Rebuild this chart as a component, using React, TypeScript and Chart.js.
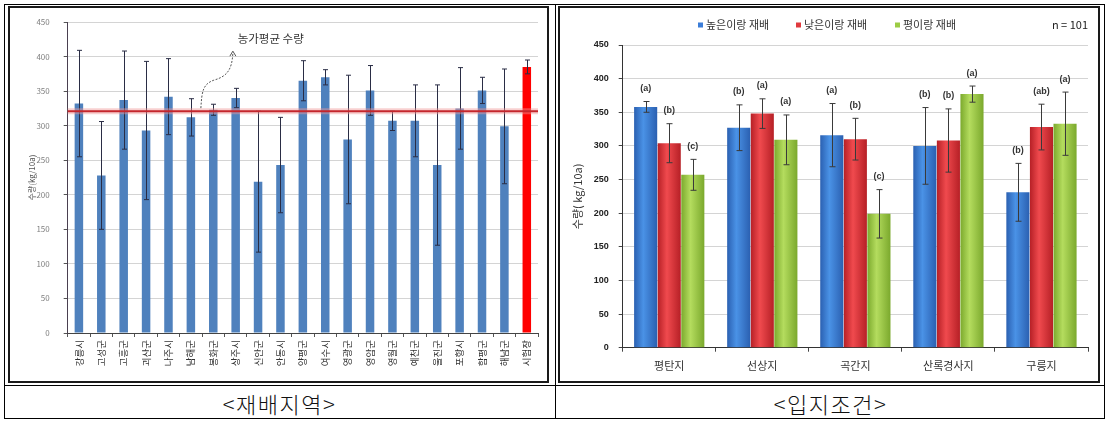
import React, { useEffect, useRef } from "react";
import { Chart, registerables } from "chart.js";
Chart.register(...registerables);

// ---------- Left chart data: 재배지역 ----------
const regionLabels = ["강릉시", "고성군", "고흥군", "괴산군", "나주시", "남해군", "봉화군", "상주시", "신안군", "안동시", "양평군", "여수시", "영광군", "영암군", "영월군", "예천군", "울진군", "포항시", "함평군", "해남군", "시험장"];
const regionYield = [332, 228, 337, 293, 342, 312, 323, 340, 219, 243, 365, 370, 280, 351, 307, 307, 243, 325, 351, 299, 385];
const regionSD = [77, 78, 71, 100, 55, 27, 8, 14, 102, 69, 29, 11, 93, 36, 14, 52, 116, 59, 19, 83, 10];
const farmAverage = 321;
const farmAverageLabel = "농가평균 수량";
const leftYTitle = "수량(kg/10a)";

// ---------- Right chart data: 입지조건 ----------
const siteLabels = ["평탄지", "선상지", "곡간지", "산록경사지", "구릉지"];
const seriesNames = ["높은이랑 재배", "낮은이랑 재배", "평이랑 재배"];
const highRidge = [358, 327, 316, 300, 231];
const lowRidge = [304, 348, 310, 308, 328];
const flatRidge = [257, 309, 199, 377, 333];
const highSD = [8, 34, 47, 57, 43];
const lowSD = [29, 22, 31, 47, 34];
const flatSD = [23, 37, 36, 12, 47];
const highSig = ["(a)", "(b)", "(a)", "(b)", "(b)"];
const lowSig = ["(b)", "(a)", "(b)", "(b)", "(ab)"];
const flatSig = ["(c)", "(a)", "(c)", "(a)", "(a)"];
const sampleNote = "n = 101";
const rightYTitle = "수량( kg/10a)";

// ---------- Axis ----------
const yMin = 0;
const yMax = 450;
const yStep = 50;

const captions = ["<재배지역>", "<입지조건>"];

const FONT = "'Noto Sans CJK KR', 'Noto Sans', sans-serif";
const CAT_PCT = 0.76;

const seriesColors = [
  { dark: "#2a5fb0", light: "#4a92e6", solid: "#3b7dd8" },
  { dark: "#b51f25", light: "#f04a4e", solid: "#e03a3e" },
  { dark: "#7aa82c", light: "#b4dc5e", solid: "#9ccc44" },
];

function gradFor(dsIndex: number) {
  const col = seriesColors[dsIndex];
  return (ctx: any) => {
    const chart = ctx.chart;
    const xs = chart.scales && chart.scales.x;
    if (!xs || ctx.type !== "data" || !isFinite(xs.width) || xs.width <= 0) return col.solid;
    const catW = xs.width / siteLabels.length;
    const barW = (catW * CAT_PCT) / 3;
    const center = xs.getPixelForValue(ctx.dataIndex);
    const left = center - (catW * CAT_PCT) / 2 + dsIndex * barW;
    const g = chart.ctx.createLinearGradient(left, 0, left + barW, 0);
    g.addColorStop(0, col.dark);
    g.addColorStop(0.4, col.light);
    g.addColorStop(1, col.dark);
    return g;
  };
}

function drawErr(ctx: CanvasRenderingContext2D, x: number, yTop: number, yBot: number, cap: number) {
  ctx.beginPath();
  ctx.moveTo(x, yTop);
  ctx.lineTo(x, yBot);
  ctx.moveTo(x - cap, yTop);
  ctx.lineTo(x + cap, yTop);
  ctx.moveTo(x - cap, yBot);
  ctx.lineTo(x + cap, yBot);
  ctx.stroke();
}

const leftPlugin = {
  id: "leftExtras",
  afterDatasetsDraw(chart: any) {
    const { ctx, chartArea, scales } = chart;
    const meta = chart.getDatasetMeta(0);
    ctx.save();
    ctx.strokeStyle = "#2a2d45";
    ctx.lineWidth = 1;
    meta.data.forEach((el: any, i: number) => {
      const yT = scales.y.getPixelForValue(regionYield[i] + regionSD[i]);
      const yB = scales.y.getPixelForValue(regionYield[i] - regionSD[i]);
      drawErr(ctx, Math.round(el.x) + 0.5, yT, yB, 2.5);
    });
    // average line
    const y = scales.y.getPixelForValue(farmAverage);
    ctx.strokeStyle = "rgba(240,150,150,0.45)";
    ctx.lineWidth = 6;
    ctx.beginPath();
    ctx.moveTo(chartArea.left, y);
    ctx.lineTo(chartArea.right, y);
    ctx.stroke();
    ctx.strokeStyle = "#c4262c";
    ctx.lineWidth = 2;
    ctx.beginPath();
    ctx.moveTo(chartArea.left, y);
    ctx.lineTo(chartArea.right, y);
    ctx.stroke();
    // annotation arrow
    const x0 = scales.x.getPixelForValue(5) + 10;
    ctx.strokeStyle = "#555";
    ctx.lineWidth = 1;
    ctx.setLineDash([2, 1.5]);
    ctx.beginPath();
    ctx.moveTo(x0, y - 3);
    ctx.bezierCurveTo(x0 + 1, y - 20, x0 + 2, y - 27, x0 + 13, y - 31);
    ctx.bezierCurveTo(x0 + 27, y - 35, x0 + 31, y - 42, x0 + 32, y - 58);
    ctx.stroke();
    ctx.setLineDash([]);
    ctx.beginPath();
    ctx.moveTo(x0 + 29, y - 55);
    ctx.lineTo(x0 + 32, y - 60);
    ctx.lineTo(x0 + 35, y - 55);
    ctx.stroke();
    // annotation text
    ctx.fillStyle = "#333";
    ctx.font = `11.5px ${FONT}`;
    ctx.textAlign = "left";
    ctx.textBaseline = "middle";
    ctx.fillText(farmAverageLabel, scales.x.getPixelForValue(7) + 2, y - 73);
    ctx.restore();
  },
};

const rightPlugin = {
  id: "rightExtras",
  afterDatasetsDraw(chart: any) {
    const { ctx, scales } = chart;
    const values = [highRidge, lowRidge, flatRidge];
    const sds = [highSD, lowSD, flatSD];
    const sigs = [highSig, lowSig, flatSig];
    ctx.save();
    values.forEach((vals, d) => {
      const meta = chart.getDatasetMeta(d);
      meta.data.forEach((el: any, i: number) => {
        const yT = scales.y.getPixelForValue(vals[i] + sds[d][i]);
        const yB = scales.y.getPixelForValue(vals[i] - sds[d][i]);
        ctx.strokeStyle = "#3a3a3a";
        ctx.lineWidth = 1;
        drawErr(ctx, Math.round(el.x) + 0.5, yT, yB, 3);
        ctx.fillStyle = "#333";
        ctx.font = `bold 9px 'Liberation Sans', sans-serif`;
        ctx.textAlign = "center";
        ctx.textBaseline = "middle";
        ctx.fillText(sigs[d][i], el.x, yT - 13);
      });
    });
    ctx.restore();
  },
  afterDraw(chart: any) {
    const { ctx, chartArea } = chart;
    ctx.save();
    ctx.font = `11px ${FONT}`;
    ctx.textBaseline = "middle";
    ctx.textAlign = "left";
    const starts = [138, 236, 335];
    const ly = 17;
    chart.data.datasets.forEach((ds: any, d: number) => {
      ctx.fillStyle = seriesColors[d].solid;
      ctx.fillRect(starts[d], ly - 2.5, 5, 5);
      ctx.fillStyle = "#333";
      ctx.fillText(ds.label, starts[d] + 8, ly);
    });
    ctx.textAlign = "right";
    ctx.fillStyle = "#222";
    ctx.fillText(sampleNote, chartArea.right, ly);
    ctx.restore();
  },
};

export default function App() {
  const leftRef = useRef<HTMLCanvasElement>(null);
  const rightRef = useRef<HTMLCanvasElement>(null);

  useEffect(() => {
    const c1 = new Chart(leftRef.current as HTMLCanvasElement, {
      type: "bar",
      data: {
        labels: regionLabels,
        datasets: [
          {
            data: regionYield,
            backgroundColor: regionLabels.map((_, i) => (i === regionLabels.length - 1 ? "#ff0000" : "#4f81bd")),
            categoryPercentage: 0.38,
            barPercentage: 1,
          },
        ],
      },
      options: {
        animation: false,
        responsive: false,
        layout: { padding: { top: 14, right: 9, left: 0, bottom: 0 } },
        plugins: { legend: { display: false }, tooltip: { enabled: false } },
        scales: {
          x: {
            grid: { display: true, drawOnChartArea: false, drawTicks: true, tickLength: 4, color: "#555", offset: true },
            border: { color: "#444", width: 1 },
            ticks: { autoSkip: false, minRotation: 90, maxRotation: 90, padding: 3, color: "#333", font: { family: FONT, size: 9.5 } },
            afterFit: (s: any) => { s.height = 48; s.paddingLeft = 0; s.paddingRight = 0; },
          },
          y: {
            min: yMin,
            max: yMax,
            ticks: { stepSize: yStep, padding: 14, color: "#808080", font: { family: FONT, size: 8 } },
            grid: { color: "#d4d4d4", tickLength: 4, tickColor: "#555" },
            border: { color: "#4a4050", width: 1 },
            title: { display: true, text: leftYTitle, color: "#555", font: { family: FONT, size: 8 }, padding: { top: 17, bottom: 0 } },
            afterFit: (s: any) => { s.width = 57.7; s.paddingTop = 0; s.paddingBottom = 0; },
          },
        },
      } as any,
      plugins: [leftPlugin],
    });

    const c2 = new Chart(rightRef.current as HTMLCanvasElement, {
      type: "bar",
      data: {
        labels: siteLabels,
        datasets: [highRidge, lowRidge, flatRidge].map((vals, d) => ({
          label: seriesNames[d],
          data: vals,
          backgroundColor: gradFor(d),
          categoryPercentage: CAT_PCT,
          barPercentage: 0.98,
        })),
      },
      options: {
        animation: false,
        responsive: false,
        layout: { padding: { top: 37, right: 10, left: 0, bottom: 0 } },
        plugins: { legend: { display: false }, tooltip: { enabled: false } },
        scales: {
          x: {
            grid: { display: true, drawOnChartArea: false, drawTicks: true, tickLength: 4, color: "#444", offset: true },
            border: { color: "#333", width: 1 },
            ticks: { padding: 8, color: "#333", font: { family: FONT, size: 11 } },
            afterFit: (s: any) => { s.height = 33.3; s.paddingLeft = 0; s.paddingRight = 0; },
          },
          y: {
            min: yMin,
            max: yMax,
            ticks: { stepSize: yStep, padding: 10, color: "#222", font: { family: "'Liberation Sans', sans-serif", size: 9, weight: "bold" } },
            grid: { color: "#d4d4d4", tickLength: 4, tickColor: "#444" },
            border: { color: "#333", width: 1 },
            title: { display: true, text: rightYTitle, color: "#333", font: { family: FONT, size: 11 }, padding: { top: 11, bottom: 0 } },
            afterFit: (s: any) => { s.width = 62.7; s.paddingTop = 0; s.paddingBottom = 0; },
          },
        },
      } as any,
      plugins: [rightPlugin],
    });

    return () => {
      c1.destroy();
      c2.destroy();
    };
  }, []);

  const abs = (l: number, t: number, w: number, h: number, extra: any = {}) => ({
    position: "absolute" as const,
    left: l,
    top: t,
    width: w,
    height: h,
    boxSizing: "border-box" as const,
    ...extra,
  });

  const captionStyle = {
    display: "flex",
    alignItems: "center",
    justifyContent: "center",
    fontFamily: FONT,
    fontSize: 22,
    fontWeight: 300,
    letterSpacing: 1.5,
    color: "#111",
    lineHeight: 1,
  };

  return (
    <div style={{ position: "absolute", left: 0, top: 0, width: 1110, height: 423, background: "#fff", overflow: "hidden" }}>
      <div style={abs(4, 4, 1101, 415, { border: "1px solid #000" })} />
      <div style={abs(555, 4, 1, 415, { background: "#000" })} />
      <div style={abs(4, 385, 1101, 1, { background: "#000" })} />
      <div style={abs(8, 6, 541, 377, { border: "2px solid #1a1a1a" })} />
      <div style={abs(558, 6, 542, 377, { border: "2px solid #1a1a1a" })} />
      <canvas ref={leftRef} width={537} height={373} style={{ position: "absolute", left: 10, top: 8, width: 537, height: 373 }} />
      <canvas ref={rightRef} width={538} height={373} style={{ position: "absolute", left: 560, top: 8, width: 538, height: 373 }} />
      <div style={abs(4, 386, 551, 33, captionStyle)}>{captions[0]}</div>
      <div style={abs(556, 386, 549, 33, captionStyle)}>{captions[1]}</div>
    </div>
  );
}
